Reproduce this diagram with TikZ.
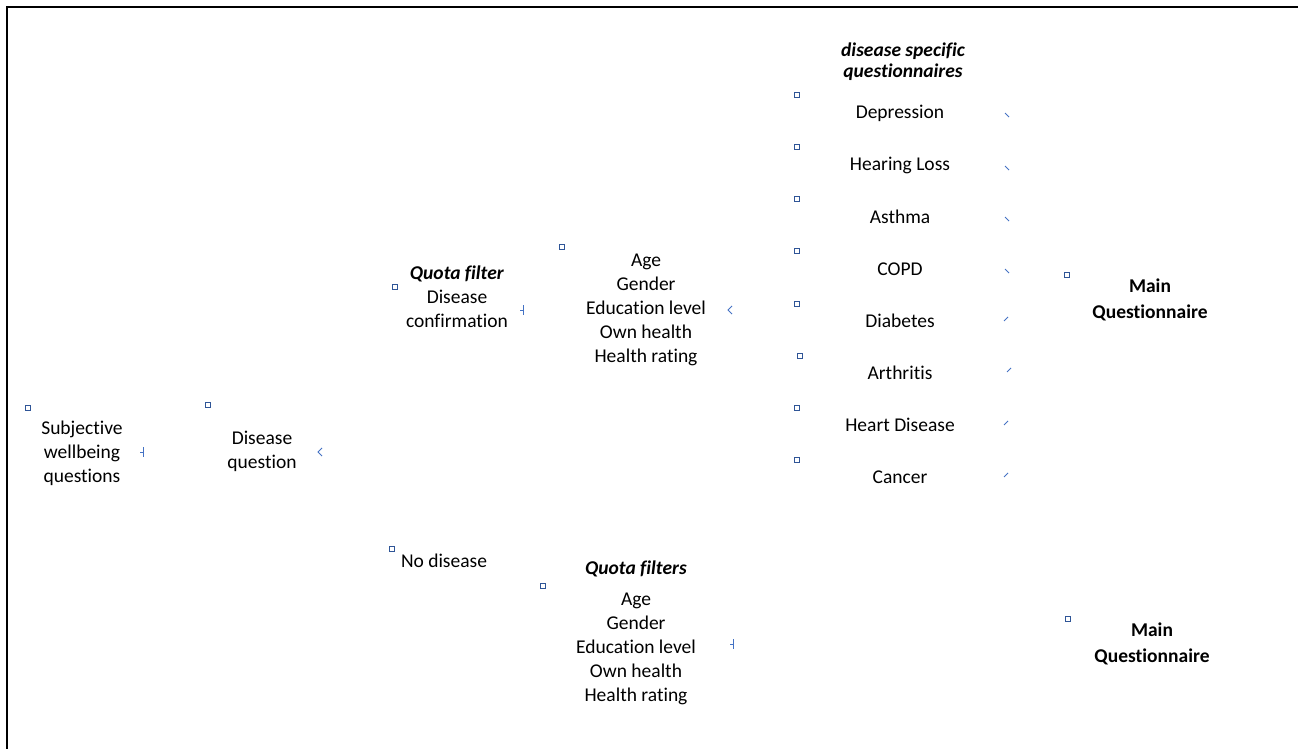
\documentclass[tikz,border=0pt]{standalone}
\usepackage{fontspec}
\setmainfont{Carlito}[Ligatures=NoCommon]
\definecolor{markblue}{RGB}{68,114,196}
\definecolor{sqblue}{RGB}{47,85,151}
\tikzset{
  txt/.style={align=center, inner sep=0pt, font=\fontsize{19.5}{24}\selectfont},
  headtxt/.style={align=center, inner sep=0pt, font=\fontsize{19.5}{21}\selectfont\bfseries\itshape},
  maintxt/.style={align=center, inner sep=0pt, font=\fontsize{19.5}{26}\selectfont\bfseries},
  anchorsq/.style={draw=sqblue, line width=1pt, minimum size=4.5pt, inner sep=0pt},
  stub/.style={draw=markblue, line width=0.8pt}
}
\begin{document}
\begin{tikzpicture}[x=1pt,y=-1pt]
\useasboundingbox (0,0) rectangle (1298,749);
% frame, top and left side
\draw[line width=2pt] (7,749) -- (7,7) -- (1298,7);

% left column
\node[txt] (subj) at (82,453) {Subjective\\wellbeing\\questions};
\node[txt] (dq) at (262,451) {Disease\\question};

% disease branch
\node[txt] (qfilter) at (457,297) {\textbf{\textit{Quota filter}}\\Disease\\confirmation};
\node[txt] (demo) at (646,310) {Age\\Gender\\Education level\\Own health\\Health rating};
\node[headtxt] (dsq) at (903,62) {disease specific\\questionnaires};
\foreach \name [count=\i] in {Depression, Hearing Loss, Asthma, COPD, Diabetes, Arthritis, Heart Disease, Cancer}
  \node[txt] (dis\i) at (900,61+52*\i) {\name};
\node[maintxt] (main1) at (1150,300) {Main\\Questionnaire};

% no disease branch
\node[txt] (nodis) at (444,561) {No disease};
\node[txt] (qfilters) at (636,633) {\textbf{\textit{Quota filters}}\\[7pt]Age\\Gender\\Education level\\Own health\\Health rating};
\node[maintxt] (main2) at (1152,644) {Main\\Questionnaire};

% small blue markers
\foreach \x/\y [count=\i] in {28/408, 208/405, 395/287, 562/247, 797/95, 797/147, 797/199, 797/251,
    797/304, 800/356, 797/408, 797/460, 1067/275, 392/549, 543/586, 1068/619}
  \node[anchorsq] (sq\i) at (\x,\y) {};
\foreach \x/\y in {143/452, 523/310, 733/644}
  \draw[stub] (\x,\y-5) -- (\x,\y+5) (\x-3,\y) -- (\x,\y);
\foreach \x/\y in {320/452, 730/310}
  \draw[stub] (\x+2,\y-4) -- (\x-2,\y) -- (\x+2,\y+4);
\foreach \x/\y in {1007/115, 1007/168, 1007/219, 1007/271}
  \draw[stub] (\x-2,\y-2) -- (\x+2,\y+2);
\foreach \x/\y in {1006/319, 1009/370, 1006/423, 1006/475}
  \draw[stub] (\x-2,\y+2) -- (\x+2,\y-2);
\end{tikzpicture}
\end{document}
